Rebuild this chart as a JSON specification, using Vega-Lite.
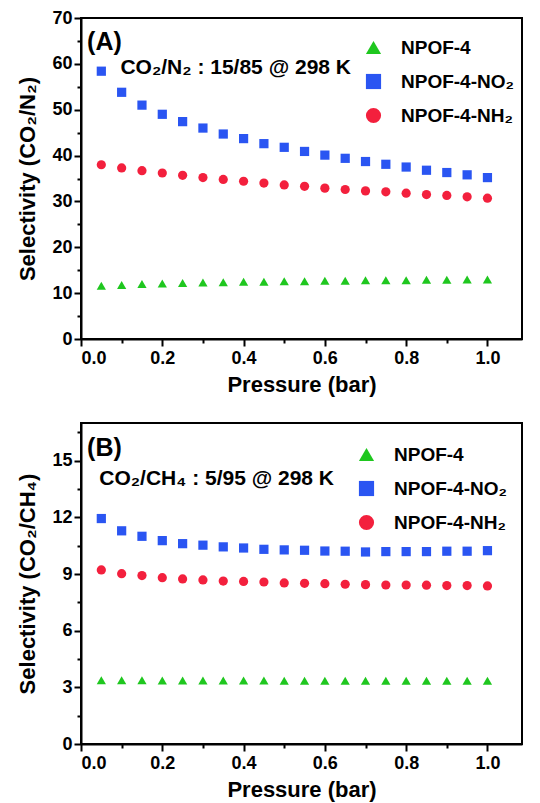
{
  "$schema": "https://vega.github.io/schema/vega-lite/v6.json",
  "background": "white",
  "padding": {"left": 15, "top": 8, "right": 5, "bottom": 5},
  "spacing": 26,
  "config": {
    "font": "Liberation Sans",
    "view": {"stroke": "black", "strokeWidth": 2},
    "axis": {"labelFontSize": 18, "labelFontWeight": "bold", "labelColor": "black", "titleFontSize": 22, "titleFontWeight": "bold", "titleColor": "black", "domainColor": "black", "domainWidth": 2, "tickColor": "black", "tickWidth": 2, "grid": false, "labelPadding": 2},
    "legend": {"labelFontSize": 19, "labelFontWeight": "bold", "labelColor": "black", "symbolSize": 230, "symbolStrokeWidth": 0, "rowPadding": 14, "padding": 0, "labelOffset": 18}
  },
  "datasets": {
    "a": [
      {"p":0.05,"s":11.6,"series":"NPOF-4"},{"p":0.10,"s":11.8,"series":"NPOF-4"},{"p":0.15,"s":12.0,"series":"NPOF-4"},{"p":0.20,"s":12.1,"series":"NPOF-4"},{"p":0.25,"s":12.2,"series":"NPOF-4"},{"p":0.30,"s":12.3,"series":"NPOF-4"},{"p":0.35,"s":12.4,"series":"NPOF-4"},{"p":0.40,"s":12.5,"series":"NPOF-4"},{"p":0.45,"s":12.5,"series":"NPOF-4"},{"p":0.50,"s":12.6,"series":"NPOF-4"},{"p":0.55,"s":12.6,"series":"NPOF-4"},{"p":0.60,"s":12.7,"series":"NPOF-4"},{"p":0.65,"s":12.7,"series":"NPOF-4"},{"p":0.70,"s":12.8,"series":"NPOF-4"},{"p":0.75,"s":12.8,"series":"NPOF-4"},{"p":0.80,"s":12.8,"series":"NPOF-4"},{"p":0.85,"s":12.9,"series":"NPOF-4"},{"p":0.90,"s":12.9,"series":"NPOF-4"},{"p":0.95,"s":13.0,"series":"NPOF-4"},{"p":1.00,"s":13.0,"series":"NPOF-4"},
      {"p":0.05,"s":58.4,"series":"NPOF-4-NO₂"},{"p":0.10,"s":53.8,"series":"NPOF-4-NO₂"},{"p":0.15,"s":51.0,"series":"NPOF-4-NO₂"},{"p":0.20,"s":49.0,"series":"NPOF-4-NO₂"},{"p":0.25,"s":47.4,"series":"NPOF-4-NO₂"},{"p":0.30,"s":46.0,"series":"NPOF-4-NO₂"},{"p":0.35,"s":44.7,"series":"NPOF-4-NO₂"},{"p":0.40,"s":43.7,"series":"NPOF-4-NO₂"},{"p":0.45,"s":42.6,"series":"NPOF-4-NO₂"},{"p":0.50,"s":41.8,"series":"NPOF-4-NO₂"},{"p":0.55,"s":40.9,"series":"NPOF-4-NO₂"},{"p":0.60,"s":40.1,"series":"NPOF-4-NO₂"},{"p":0.65,"s":39.4,"series":"NPOF-4-NO₂"},{"p":0.70,"s":38.7,"series":"NPOF-4-NO₂"},{"p":0.75,"s":38.1,"series":"NPOF-4-NO₂"},{"p":0.80,"s":37.5,"series":"NPOF-4-NO₂"},{"p":0.85,"s":36.8,"series":"NPOF-4-NO₂"},{"p":0.90,"s":36.3,"series":"NPOF-4-NO₂"},{"p":0.95,"s":35.8,"series":"NPOF-4-NO₂"},{"p":1.00,"s":35.2,"series":"NPOF-4-NO₂"},
      {"p":0.05,"s":38.0,"series":"NPOF-4-NH₂"},{"p":0.10,"s":37.3,"series":"NPOF-4-NH₂"},{"p":0.15,"s":36.7,"series":"NPOF-4-NH₂"},{"p":0.20,"s":36.2,"series":"NPOF-4-NH₂"},{"p":0.25,"s":35.7,"series":"NPOF-4-NH₂"},{"p":0.30,"s":35.2,"series":"NPOF-4-NH₂"},{"p":0.35,"s":34.8,"series":"NPOF-4-NH₂"},{"p":0.40,"s":34.4,"series":"NPOF-4-NH₂"},{"p":0.45,"s":34.0,"series":"NPOF-4-NH₂"},{"p":0.50,"s":33.6,"series":"NPOF-4-NH₂"},{"p":0.55,"s":33.3,"series":"NPOF-4-NH₂"},{"p":0.60,"s":32.9,"series":"NPOF-4-NH₂"},{"p":0.65,"s":32.6,"series":"NPOF-4-NH₂"},{"p":0.70,"s":32.3,"series":"NPOF-4-NH₂"},{"p":0.75,"s":32.1,"series":"NPOF-4-NH₂"},{"p":0.80,"s":31.8,"series":"NPOF-4-NH₂"},{"p":0.85,"s":31.5,"series":"NPOF-4-NH₂"},{"p":0.90,"s":31.3,"series":"NPOF-4-NH₂"},{"p":0.95,"s":31.0,"series":"NPOF-4-NH₂"},{"p":1.00,"s":30.7,"series":"NPOF-4-NH₂"}
    ],
    "b": [
      {"p":0.05,"s":3.38,"series":"NPOF-4"},{"p":0.10,"s":3.37,"series":"NPOF-4"},{"p":0.15,"s":3.37,"series":"NPOF-4"},{"p":0.20,"s":3.36,"series":"NPOF-4"},{"p":0.25,"s":3.36,"series":"NPOF-4"},{"p":0.30,"s":3.36,"series":"NPOF-4"},{"p":0.35,"s":3.36,"series":"NPOF-4"},{"p":0.40,"s":3.36,"series":"NPOF-4"},{"p":0.45,"s":3.36,"series":"NPOF-4"},{"p":0.50,"s":3.35,"series":"NPOF-4"},{"p":0.55,"s":3.35,"series":"NPOF-4"},{"p":0.60,"s":3.35,"series":"NPOF-4"},{"p":0.65,"s":3.35,"series":"NPOF-4"},{"p":0.70,"s":3.35,"series":"NPOF-4"},{"p":0.75,"s":3.35,"series":"NPOF-4"},{"p":0.80,"s":3.35,"series":"NPOF-4"},{"p":0.85,"s":3.35,"series":"NPOF-4"},{"p":0.90,"s":3.35,"series":"NPOF-4"},{"p":0.95,"s":3.35,"series":"NPOF-4"},{"p":1.00,"s":3.35,"series":"NPOF-4"},
      {"p":0.05,"s":11.94,"series":"NPOF-4-NO₂"},{"p":0.10,"s":11.29,"series":"NPOF-4-NO₂"},{"p":0.15,"s":11.0,"series":"NPOF-4-NO₂"},{"p":0.20,"s":10.77,"series":"NPOF-4-NO₂"},{"p":0.25,"s":10.61,"series":"NPOF-4-NO₂"},{"p":0.30,"s":10.53,"series":"NPOF-4-NO₂"},{"p":0.35,"s":10.44,"series":"NPOF-4-NO₂"},{"p":0.40,"s":10.38,"series":"NPOF-4-NO₂"},{"p":0.45,"s":10.31,"series":"NPOF-4-NO₂"},{"p":0.50,"s":10.28,"series":"NPOF-4-NO₂"},{"p":0.55,"s":10.26,"series":"NPOF-4-NO₂"},{"p":0.60,"s":10.22,"series":"NPOF-4-NO₂"},{"p":0.65,"s":10.21,"series":"NPOF-4-NO₂"},{"p":0.70,"s":10.17,"series":"NPOF-4-NO₂"},{"p":0.75,"s":10.19,"series":"NPOF-4-NO₂"},{"p":0.80,"s":10.19,"series":"NPOF-4-NO₂"},{"p":0.85,"s":10.19,"series":"NPOF-4-NO₂"},{"p":0.90,"s":10.21,"series":"NPOF-4-NO₂"},{"p":0.95,"s":10.21,"series":"NPOF-4-NO₂"},{"p":1.00,"s":10.24,"series":"NPOF-4-NO₂"},
      {"p":0.05,"s":9.22,"series":"NPOF-4-NH₂"},{"p":0.10,"s":9.02,"series":"NPOF-4-NH₂"},{"p":0.15,"s":8.92,"series":"NPOF-4-NH₂"},{"p":0.20,"s":8.81,"series":"NPOF-4-NH₂"},{"p":0.25,"s":8.74,"series":"NPOF-4-NH₂"},{"p":0.30,"s":8.69,"series":"NPOF-4-NH₂"},{"p":0.35,"s":8.63,"series":"NPOF-4-NH₂"},{"p":0.40,"s":8.61,"series":"NPOF-4-NH₂"},{"p":0.45,"s":8.58,"series":"NPOF-4-NH₂"},{"p":0.50,"s":8.53,"series":"NPOF-4-NH₂"},{"p":0.55,"s":8.51,"series":"NPOF-4-NH₂"},{"p":0.60,"s":8.49,"series":"NPOF-4-NH₂"},{"p":0.65,"s":8.46,"series":"NPOF-4-NH₂"},{"p":0.70,"s":8.44,"series":"NPOF-4-NH₂"},{"p":0.75,"s":8.42,"series":"NPOF-4-NH₂"},{"p":0.80,"s":8.42,"series":"NPOF-4-NH₂"},{"p":0.85,"s":8.41,"series":"NPOF-4-NH₂"},{"p":0.90,"s":8.39,"series":"NPOF-4-NH₂"},{"p":0.95,"s":8.39,"series":"NPOF-4-NH₂"},{"p":1.00,"s":8.37,"series":"NPOF-4-NH₂"}
    ]
  },
  "vconcat": [
    {
      "width": 441, "height": 321,
      "layer": [
        {
          "data": {"name": "a"},
          "mark": {"type": "point", "filled": true, "opacity": 1, "size": 85},
          "encoding": {
            "x": {"field": "p", "type": "quantitative", "scale": {"domain": [0, 1.085], "nice": false, "zero": false},
                  "axis": {"values": [0, 0.2, 0.4, 0.6, 0.8, 1.0], "format": ".1f", "title": "Pressure (bar)", "tickSize": 7, "titlePadding": 7, "labelPadding": 3}},
            "y": {"field": "s", "type": "quantitative", "scale": {"domain": [0, 70], "nice": false},
                  "axis": {"values": [0, 10, 20, 30, 40, 50, 60, 70], "title": "Selectivity (CO₂/N₂)", "tickSize": 7, "titlePadding": 12}},
            "color": {"field": "series", "type": "nominal", "scale": {"domain": ["NPOF-4", "NPOF-4-NO₂", "NPOF-4-NH₂"], "range": ["#1fc71f", "#2a55f2", "#f3203d"]},
                      "legend": {"title": null, "orient": "none", "legendX": 283, "legendY": 20, "symbolSize": 230}},
            "shape": {"field": "series", "type": "nominal", "scale": {"domain": ["NPOF-4", "NPOF-4-NO₂", "NPOF-4-NH₂"], "range": ["triangle-up", "square", "circle"]},
                      "legend": {"title": null, "orient": "none", "legendX": 283, "legendY": 20, "symbolSize": 230}}
          }
        },
        {
          "data": {"name": "a"},
          "mark": {"type": "point", "opacity": 0},
          "encoding": {
            "x": {"field": "p", "type": "quantitative", "axis": {"orient": "bottom", "values": [0.1, 0.3, 0.5, 0.7, 0.9], "labels": false, "domain": false, "title": null, "tickSize": 4}},
            "y": {"field": "s", "type": "quantitative", "axis": {"orient": "left", "values": [5, 15, 25, 35, 45, 55, 65], "labels": false, "domain": false, "title": null, "tickSize": 4}}
          }
        },
        {
          "data": {"values": [{"p": 0.015, "s": 64.8, "label": "(A)"}]},
          "mark": {"type": "text", "align": "left", "baseline": "middle", "fontSize": 25, "fontWeight": "bold", "color": "black"},
          "encoding": {
            "x": {"field": "p", "type": "quantitative", "axis": null},
            "y": {"field": "s", "type": "quantitative", "axis": null},
            "text": {"field": "label"}
          }
        },
        {
          "data": {"values": [{"p": 0.097, "s": 59.2, "label": "CO₂/N₂ : 15/85 @ 298 K"}]},
          "mark": {"type": "text", "align": "left", "baseline": "middle", "fontSize": 21, "fontWeight": "bold", "color": "black"},
          "encoding": {
            "x": {"field": "p", "type": "quantitative", "axis": null},
            "y": {"field": "s", "type": "quantitative", "axis": null},
            "text": {"field": "label"}
          }
        }
      ],
      "resolve": {"axis": {"x": "independent", "y": "independent"}}
    },
    {
      "width": 441, "height": 321,
      "layer": [
        {
          "data": {"name": "b"},
          "mark": {"type": "point", "filled": true, "opacity": 1, "size": 85},
          "encoding": {
            "x": {"field": "p", "type": "quantitative", "scale": {"domain": [0, 1.085], "nice": false, "zero": false},
                  "axis": {"values": [0, 0.2, 0.4, 0.6, 0.8, 1.0], "format": ".1f", "title": "Pressure (bar)", "tickSize": 7, "titlePadding": 7, "labelPadding": 3}},
            "y": {"field": "s", "type": "quantitative", "scale": {"domain": [0, 17], "nice": false},
                  "axis": {"values": [0, 3, 6, 9, 12, 15], "title": "Selectivity (CO₂/CH₄)", "tickSize": 7, "titlePadding": 12}},
            "color": {"field": "series", "type": "nominal", "scale": {"domain": ["NPOF-4", "NPOF-4-NO₂", "NPOF-4-NH₂"], "range": ["#1fc71f", "#2a55f2", "#f3203d"]},
                      "legend": {"title": null, "orient": "none", "legendX": 276, "legendY": 22, "symbolSize": 230}},
            "shape": {"field": "series", "type": "nominal", "scale": {"domain": ["NPOF-4", "NPOF-4-NO₂", "NPOF-4-NH₂"], "range": ["triangle-up", "square", "circle"]},
                      "legend": {"title": null, "orient": "none", "legendX": 276, "legendY": 22, "symbolSize": 230}}
          }
        },
        {
          "data": {"name": "b"},
          "mark": {"type": "point", "opacity": 0},
          "encoding": {
            "x": {"field": "p", "type": "quantitative", "axis": {"orient": "bottom", "values": [0.1, 0.3, 0.5, 0.7, 0.9], "labels": false, "domain": false, "title": null, "tickSize": 4}},
            "y": {"field": "s", "type": "quantitative", "axis": {"orient": "left", "values": [1.5, 4.5, 7.5, 10.5, 13.5, 16.5], "labels": false, "domain": false, "title": null, "tickSize": 4}}
          }
        },
        {
          "data": {"values": [{"p": 0.015, "s": 15.7, "label": "(B)"}]},
          "mark": {"type": "text", "align": "left", "baseline": "middle", "fontSize": 25, "fontWeight": "bold", "color": "black"},
          "encoding": {
            "x": {"field": "p", "type": "quantitative", "axis": null},
            "y": {"field": "s", "type": "quantitative", "axis": null},
            "text": {"field": "label"}
          }
        },
        {
          "data": {"values": [{"p": 0.045, "s": 14.05, "label": "CO₂/CH₄ : 5/95 @ 298 K"}]},
          "mark": {"type": "text", "align": "left", "baseline": "middle", "fontSize": 21, "fontWeight": "bold", "color": "black"},
          "encoding": {
            "x": {"field": "p", "type": "quantitative", "axis": null},
            "y": {"field": "s", "type": "quantitative", "axis": null},
            "text": {"field": "label"}
          }
        }
      ],
      "resolve": {"axis": {"x": "independent", "y": "independent"}}
    }
  ],
  "resolve": {"scale": {"x": "independent", "y": "independent", "color": "independent", "shape": "independent"}}
}
